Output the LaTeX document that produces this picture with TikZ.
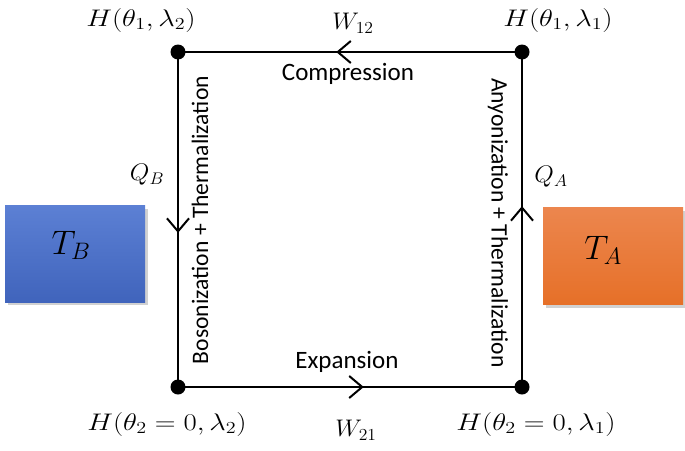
\RequirePackage{fix-cm}
\documentclass[tikz,border=0pt]{standalone}
\usepackage{fontspec}
\usepackage{graphicx}
\newfontfamily\carlito{Carlito}
\usetikzlibrary{arrows.meta,decorations.markings}
\definecolor{blueTop}{RGB}{92,128,212}
\definecolor{blueBot}{RGB}{64,100,188}
\definecolor{orTop}{RGB}{236,134,78}
\definecolor{orBot}{RGB}{230,112,40}
\tikzset{
  mathlbl/.style={font=\fontsize{24}{28}\selectfont, inner sep=0pt},
  biglbl/.style={font=\fontsize{34}{39}\selectfont, inner sep=0pt},
  sanslbl/.style={font=\carlito\fontsize{25}{29}\selectfont, inner sep=0pt},
  vsanslbl/.style={font=\carlito\fontsize{23.6}{28}\selectfont, inner sep=0pt},
  dot/.style={circle, fill=black, inner sep=0pt, minimum size=15pt},
  edgeline/.style={line width=2.2pt, postaction={decorate},
    decoration={markings, mark=at position 0.54 with {\arrow[line width=2pt]{Straight Barb[length=13pt,width=22pt]}}}},
  bath/.style={rectangle, inner sep=0pt, minimum width=140pt, minimum height=97pt},
}
\begin{document}
\begin{tikzpicture}[x=1pt,y=-1pt]
\useasboundingbox (0,0) rectangle (685,450);
% heat baths
\fill[black!30, opacity=0.6] (8,209) rectangle (148,305);
\node[bath, top color=blueTop, bottom color=blueBot] (bathB) at (75,253.5) {};
\fill[black!30, opacity=0.6] (546,211) rectangle (686,308);
\node[bath, top color=orTop, bottom color=orBot] (bathA) at (613,256) {};
\node[biglbl] (TB) at (71,245) {$T_B$};
\node[biglbl] (TA) at (603,250) {$T_A$};
% corners
\node[dot] (tl) at (178,52) {};
\node[dot] (tr) at (522,52) {};
\node[dot] (bl) at (178,387) {};
\node[dot] (br) at (522,387) {};
% cycle
\draw[edgeline] (tr.center) -- (tl.center);
\draw[edgeline] (tl.center) -- (bl.center);
\draw[edgeline] (bl.center) -- (br.center);
\draw[edgeline] (br.center) -- (tr.center);
% labels
\node[mathlbl] (htl) at (141,20) {\scalebox{1.2}[1]{$H(\theta_1,\lambda_2)$}};
\node[mathlbl] (htr) at (558,20) {\scalebox{1.2}[1]{$H(\theta_1,\lambda_1)$}};
\node[mathlbl] (hbl) at (167,424) {\scalebox{1.2}[1]{$H(\theta_2=0,\lambda_2)$}};
\node[mathlbl] (hbr) at (536,424) {\scalebox{1.2}[1]{$H(\theta_2=0,\lambda_1)$}};
\node[mathlbl] (w12) at (353,23) {\scalebox{1.05}[1]{$W_{12}$}};
\node[mathlbl] (w21) at (356,430) {\scalebox{1.05}[1]{$W_{21}$}};
\node[mathlbl] (qb) at (147,175) {\scalebox{1.05}[1]{$Q_B$}};
\node[mathlbl] (qa) at (551,177) {\scalebox{1.05}[1]{$Q_A$}};
\node[sanslbl] (comp) at (348,74) {Compression};
\node[sanslbl] (exp) at (347,362) {Expansion};
\node[vsanslbl, rotate=90] (bos) at (200,220) {Bosonization + Thermalization};
\node[vsanslbl, rotate=-90] (any) at (498,223) {Anyonization + Thermalization};
\end{tikzpicture}
\end{document}
